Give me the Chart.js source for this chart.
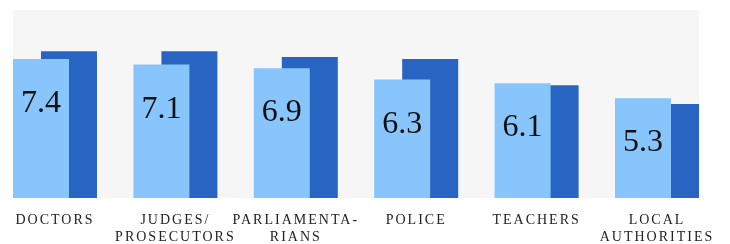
<!DOCTYPE html>
<html>
<head>
<meta charset="utf-8">
<script src="https://cdn.jsdelivr.net/npm/chart.js@4/dist/chart.umd.min.js"></script>
<style>
  html, body { margin: 0; padding: 0; background: #ffffff; }
  #wrap { width: 730px; height: 244px; position: relative; }
</style>
</head>
<body>
<div id="wrap"><canvas id="c" width="730" height="244"></canvas></div>
<script>
const categories = [
  'DOCTORS',
  ['JUDGES/', 'PROSECUTORS'],
  ['PARLIAMENTA-', 'RIANS'],
  'POLICE',
  'TEACHERS',
  ['LOCAL', 'AUTHORITIES']
];
const frontValues = [7.4, 7.1, 6.9, 6.3, 6.1, 5.3];
const backValues = [7.8, 7.8, 7.5, 7.4, 6.0, 5.0];

const LIGHT = '#89c5fd';
const DARK = '#2864c1';
const PANEL = '#f6f6f6';

const panelPlugin = {
  id: 'panel',
  beforeDraw(chart) {
    const ctx = chart.ctx;
    const a = chart.chartArea;
    const front = chart.getDatasetMeta(0).data;
    const back = chart.getDatasetMeta(1).data;
    const first = front[0];
    const last = back[back.length - 1];
    const left = first.x - first.width / 2;
    const right = last.x + last.width / 2;
    ctx.save();
    ctx.fillStyle = PANEL;
    ctx.fillRect(left, a.top, right - left, a.bottom - a.top);
    ctx.restore();
    ctx.letterSpacing = '2px';
  },
  afterDatasetsDraw(chart) {
    const ctx = chart.ctx;
    const meta = chart.getDatasetMeta(0);
    ctx.save();
    ctx.letterSpacing = '0px';
    ctx.font = '32px "Liberation Serif", serif';
    ctx.fillStyle = '#111111';
    ctx.textAlign = 'center';
    ctx.textBaseline = 'alphabetic';
    meta.data.forEach((bar, i) => {
      ctx.fillText(String(frontValues[i].toFixed(1)), bar.x, bar.y + 53);
    });
    ctx.restore();
  }
};

new Chart(document.getElementById('c'), {
  type: 'bar',
  data: {
    labels: categories,
    datasets: [
      { data: frontValues, backgroundColor: LIGHT, clip: false, barPercentage: 2.0, categoryPercentage: 0.465 },
      { data: backValues, backgroundColor: DARK, clip: false, barPercentage: 2.0, categoryPercentage: 0.465 }
    ]
  },
  options: {
    responsive: false,
    animation: false,
    events: [],
    layout: { padding: { left: 55, right: 73, top: 10, bottom: 0 } },
    plugins: { legend: { display: false }, tooltip: { enabled: false } },
    scales: {
      x: {
        offset: false,
        grid: { display: false, drawTicks: false },
        border: { display: false },
        afterFit(scale) { scale.height = 46; },
        ticks: {
          autoSkip: false,
          maxRotation: 0,
          minRotation: 0,
          padding: 14,
          color: '#222222',
          font: { family: '"Liberation Serif", serif', size: 14, lineHeight: 1.22 }
        }
      },
      y: {
        display: false,
        min: 0,
        max: 10
      }
    }
  },
  plugins: [panelPlugin]
});
</script>
</body>
</html>
